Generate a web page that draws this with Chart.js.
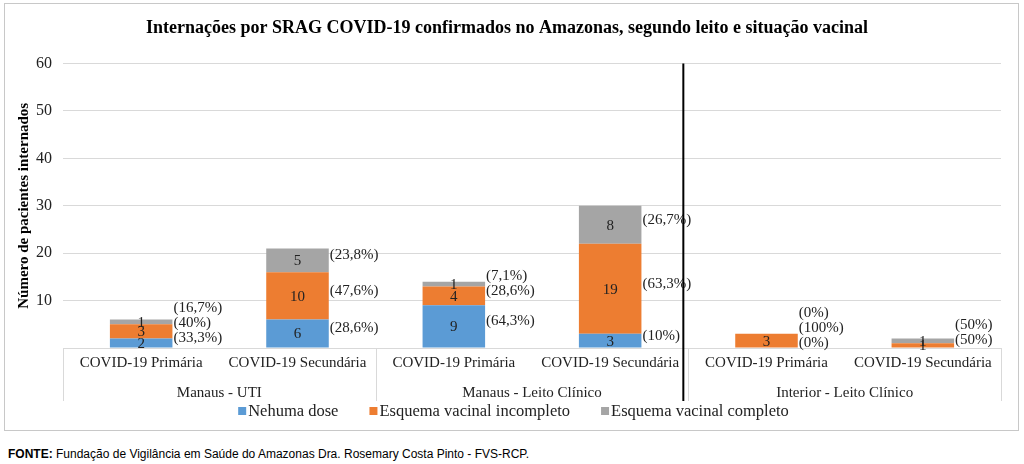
<!DOCTYPE html>
<html>
<head>
<meta charset="utf-8">
<script src="https://cdn.jsdelivr.net/npm/chart.js@4"></script>
<style>
  body { margin: 0; background: #fff; width: 1024px; height: 464px; position: relative; overflow: hidden; }
  #box { position: absolute; left: 4px; top: 3px; width: 1013px; height: 426px; border: 1px solid #c8c8c8; }
  #fonte { position: absolute; left: 8px; top: 447px; font: 12px "Liberation Sans", sans-serif; color: #000; }
</style>
</head>
<body>
<div id="box"><canvas id="chart"></canvas></div>
<div id="fonte"><b>FONTE:</b> Fundação de Vigilância em Saúde do Amazonas Dra. Rosemary Costa Pinto - FVS-RCP.</div>
<script>
// categories and groups
const categories = ['COVID-19 Primária', 'COVID-19 Secundária', 'COVID-19 Primária', 'COVID-19 Secundária', 'COVID-19 Primária', 'COVID-19 Secundária'];
const groups = ['Manaus - UTI', 'Manaus - Leito Clínico', 'Interior - Leito Clínico'];

// series values
const nenhumaDose = [2, 6, 9, 3, 0, 0];
const incompleto = [3, 10, 4, 19, 3, 1];
const completo = [1, 5, 1, 8, 0, 1];

// percentage labels as printed next to the bars
const pctNenhuma = ['(33,3%)', '(28,6%)', '(64,3%)', '(10%)', '(0%)', null];
const pctIncompleto = ['(40%)', '(47,6%)', '(28,6%)', '(63,3%)', '(100%)', '(50%)'];
const pctCompleto = ['(16,7%)', '(23,8%)', '(7,1%)', '(26,7%)', '(0%)', '(50%)'];

const yTicks = [0, 10, 20, 30, 40, 50, 60];

const serif = '"Liberation Serif", "Times New Roman", serif';
const pctLabels = [pctNenhuma, pctIncompleto, pctCompleto];

// value + percentage labels, group row, separators, legend
const extras = {
  id: 'extras',
  afterDatasetsDraw(chart) {
    const ctx = chart.ctx;
    const area = chart.chartArea;
    const x = chart.scales.x;
    const sets = chart.data.datasets;
    ctx.save();
    ctx.font = '15px ' + serif;
    ctx.textBaseline = 'middle';
    for (let i = 0; i < categories.length; i++) {
      let prevY = Infinity;
      for (let d = 0; d < sets.length; d++) {
        const bar = chart.getDatasetMeta(d).data[i];
        const v = sets[d].data[i];
        const cy = (bar.y + bar.base) / 2;
        if (v > 0) {
          ctx.fillStyle = '#222';
          ctx.textAlign = 'center';
          ctx.fillText(v, bar.x, cy + 1);
        }
        const p = pctLabels[d][i];
        if (p) {
          // slightly above the segment centre, stacked so they don't overlap
          let y = Math.min(cy - 5, prevY - 15);
          prevY = y;
          ctx.fillStyle = '#222';
          ctx.textAlign = 'left';
          ctx.fillText(p, bar.x + bar.width / 2 + 1, y);
        }
      }
    }
    // group separators and names
    const step = x.getPixelForValue(1) - x.getPixelForValue(0);
    const bottom = area.bottom + 53;
    ctx.strokeStyle = '#d9d9d9';
    ctx.lineWidth = 1;
    for (let g = 0; g <= groups.length; g++) {
      const gx = Math.round(x.getPixelForValue(g * 2) - step / 2) + 0.5;
      ctx.beginPath();
      ctx.moveTo(gx, area.bottom);
      ctx.lineTo(gx, bottom);
      ctx.stroke();
    }
    ctx.fillStyle = '#222';
    ctx.textAlign = 'center';
    groups.forEach((g, k) => {
      const gx = (x.getPixelForValue(k * 2) + x.getPixelForValue(k * 2 + 1)) / 2;
      ctx.fillText(g, gx, area.bottom + 45);
    });
    // black divider before the Interior group
    const bx = x.getPixelForValue(4) - step / 2 - 5;
    ctx.strokeStyle = '#000';
    ctx.lineWidth = 2;
    ctx.beginPath();
    ctx.moveTo(bx, area.top);
    ctx.lineTo(bx, bottom);
    ctx.stroke();

    // legend
    ctx.font = '16.5px ' + serif;
    const box = 8, gap = 2, itemGap = 31;
    const widths = sets.map(s => ctx.measureText(s.label).width);
    const total = widths.reduce((a, w) => a + box + gap + w, 0) + itemGap * (sets.length - 1);
    let lx = chart.width / 2 - total / 2 + 2;
    const ly = area.bottom + 63;
    ctx.textAlign = 'left';
    sets.forEach((s, k) => {
      ctx.fillStyle = s.backgroundColor;
      ctx.fillRect(lx, ly - box / 2, box, box);
      ctx.fillStyle = '#222';
      ctx.fillText(s.label, lx + box + gap, ly + 1);
      lx += box + gap + widths[k] + itemGap;
    });
    ctx.restore();
  }
};

window.onload = function () {
  new Chart(document.getElementById('chart'), {
    type: 'bar',
    data: {
      labels: categories,
      datasets: [
        { label: 'Nehuma dose', data: nenhumaDose, backgroundColor: '#5b9bd5' },
        { label: 'Esquema vacinal incompleto', data: incompleto, backgroundColor: '#ed7d31' },
        { label: 'Esquema vacinal completo', data: completo, backgroundColor: '#a5a5a5' }
      ]
    },
    options: {
      responsive: true,
      maintainAspectRatio: false,
      animation: false,
      layout: { padding: { left: 8, right: 17, top: 6, bottom: 30 } },
      datasets: { bar: { categoryPercentage: 1, barPercentage: 0.4 } },
      plugins: {
        title: {
          display: true,
          text: 'Internações por SRAG COVID-19 confirmados no Amazonas, segundo leito e situação vacinal',
          color: '#000',
          font: { family: serif, size: 18, weight: 'bold' },
          padding: { top: 8, bottom: 24 }
        },
        legend: { display: false },
        tooltip: { enabled: false }
      },
      scales: {
        x: {
          stacked: true,
          grid: { display: false },
          border: { display: false },
          ticks: { color: '#222', font: { family: serif, size: 15 }, padding: -2, maxRotation: 0, autoSkip: false },
          afterFit(scale) { scale.height = 52; }
        },
        y: {
          stacked: true,
          min: 0,
          max: 60,
          afterBuildTicks(scale) { scale.ticks = yTicks.map(v => ({ value: v })); },
          grid: { color: '#d9d9d9', drawTicks: false },
          border: { display: false },
          ticks: {
            color: '#222',
            font: { family: serif, size: 16 },
            padding: 11,
            callback: v => (v === 0 ? '' : v)
          },
          title: {
            display: true,
            text: 'Número de pacientes internados',
            color: '#000',
            font: { family: serif, size: 15, weight: 'bold' },
            padding: 2
          },
          afterFit(scale) { scale.width = 50; }
        }
      }
    },
    plugins: [extras]
  });
};
</script>
</body>
</html>
